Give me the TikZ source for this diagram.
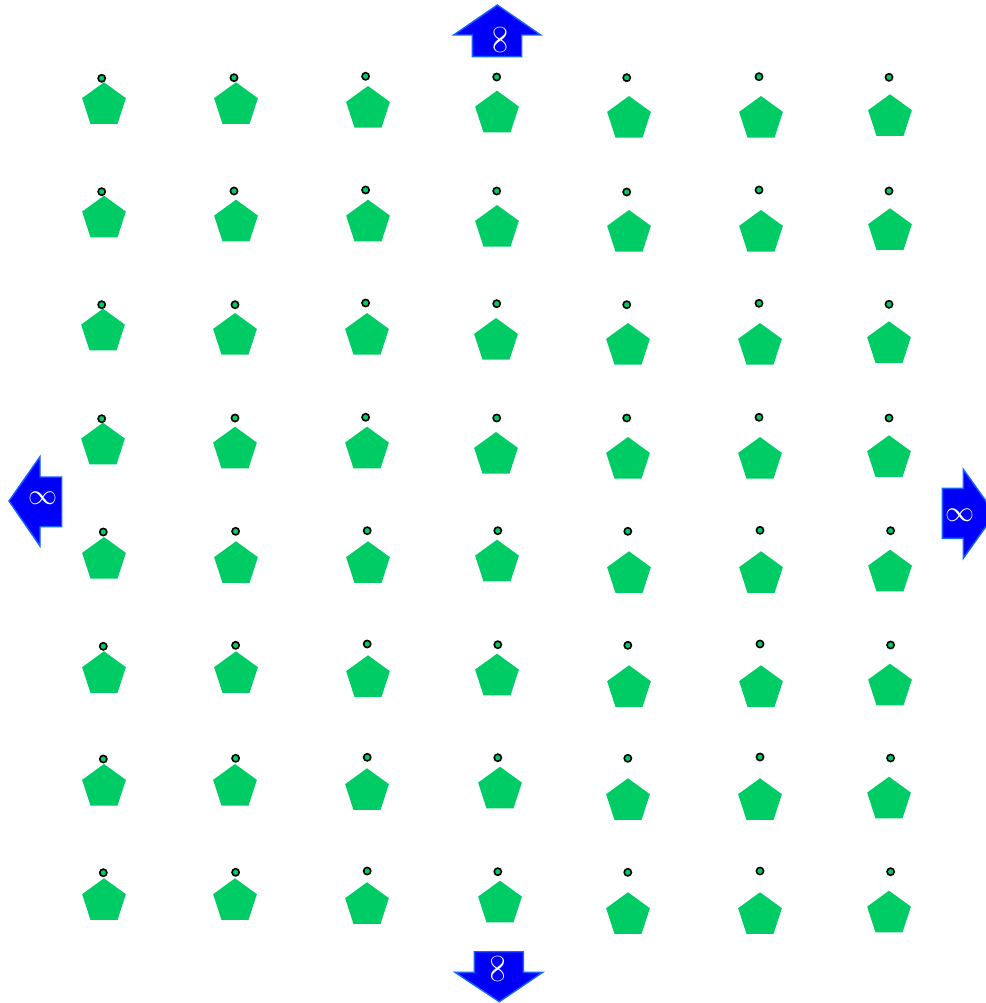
\documentclass[tikz,border=0pt]{standalone}
\usetikzlibrary{shapes.geometric}
\definecolor{pgreen}{RGB}{0,204,102}
\definecolor{abluefill}{RGB}{0,0,250}
\definecolor{abluedraw}{RGB}{20,100,255}
\tikzset{
  penta/.style={regular polygon, regular polygon sides=5, minimum size=46pt, inner sep=0pt, fill=pgreen, draw=none},
  pin/.style={circle, minimum size=7.2pt, inner sep=0pt, fill=pgreen, draw=black, line width=1.6pt},
  bigarrow/.style={fill=abluefill, draw=abluedraw, line width=1.4pt, line join=miter},
  inflabel/.style={text=white, inner sep=0pt, font=\huge, scale=1.4}
}
\begin{document}
\begin{tikzpicture}[x=1pt,y=-1pt]
\useasboundingbox (0,0) rectangle (985,1003);
% pentagons: x / top-y
\foreach \r/\xs/\tops in {
 1/{104,236,368,497,629,761,890}/{82.3,82.3,86,90.7,96,96,94.3},
 2/{104,236,368,497,629,761,890}/{195.7,199.7,199.7,205,210,210,208.3},
 3/{103,235,367,496,628,760,889}/{308.7,313,313,318,323,323,321.3},
 4/{103,235,367,496,628,760,889}/{422.7,426.7,426.7,432,437,437,435.3},
 5/{104,236,368,497,629,761,890}/{537,541.3,541.3,539.7,551.3,551.3,549.7},
 6/{104,236,368,497,629,761,890}/{651.3,651.3,655.3,653.7,665.3,665.3,663.7},
 7/{104,235,367,500,628,760,889}/{764,764,768.3,766.7,778.3,778.3,776.7},
 8/{104,235,367,500,628,760,889}/{878.3,878.3,882.3,880.7,892.3,892.3,890.7}}{
  \foreach \xx [count=\c] in \xs {
    \pgfmathsetmacro{\tt}{{\tops}[\c-1]}
    \node[penta] (p-\r-\c) at (\xx,\tt+23) {};
  }
}
% pins: x / y
\foreach \r/\xs/\ys in {
 1/{101.7,234,365.6,496.7,626.7,759,889}/{78.3,77.7,76.3,77,77.7,76.7,77.3},
 2/{101.7,234,365.6,496.7,626.7,759,889}/{191.7,191,190,191,192,190,191},
 3/{101.7,235,365.6,496.7,626.7,759,889}/{304.7,304.7,303,303.7,304.7,303.3,304.3},
 4/{101.7,235,365.6,496.7,626.7,759,889}/{418.7,418,417.3,418,418,417.3,418},
 5/{103.3,235.6,367.2,497.8,627.8,760,890.6}/{532,531.3,530.7,530.7,531.3,530.3,530.7},
 6/{103.3,235.6,367.2,497.8,627.8,760,890.6}/{646.3,645.3,644,644.7,645.3,644,645},
 7/{103.3,235.6,367.2,497.8,627.8,760,890.6}/{759,758.3,757.3,757.7,758.3,757,758},
 8/{103.3,235.6,367.2,497.8,627.8,760,890.6}/{872.7,872.3,871,871.7,872.3,871,871.7}}{
  \foreach \xx [count=\c] in \xs {
    \pgfmathsetmacro{\yy}{{\ys}[\c-1]}
    \node[pin] (d-\r-\c) at (\xx,\yy) {};
  }
}
% top arrow
\draw[bigarrow] (497.3,5) -- (540.7,35) -- (521.7,35) -- (521.7,56.7) -- (472.3,56.7) -- (472.3,35) -- (453.7,35) -- cycle;
\node[inflabel, rotate=90] (up) at (500,39.5) {$\infty$};
% bottom arrow
\draw[bigarrow] (499.3,1001.7) -- (542.7,972.3) -- (523.3,972.3) -- (523.3,951.7) -- (474.3,951.7) -- (474.3,972.3) -- (455,972.3) -- cycle;
\node[inflabel, rotate=90] (down) at (497.5,968.7) {$\infty$};
% left arrow
\draw[bigarrow] (9,501) -- (40,456.7) -- (40,477) -- (61.7,477) -- (61.7,526.7) -- (40,526.7) -- (40,546) -- cycle;
\node[inflabel] (left) at (43.3,498) {$\infty$};
% right arrow
\draw[bigarrow] (995,513.8) -- (963.3,469.3) -- (963.3,488.3) -- (942.3,488.3) -- (942.3,538.3) -- (963.3,538.3) -- (963.3,558.3) -- cycle;
\node[inflabel] (right) at (960,515) {$\infty$};
\end{tikzpicture}
\end{document}
